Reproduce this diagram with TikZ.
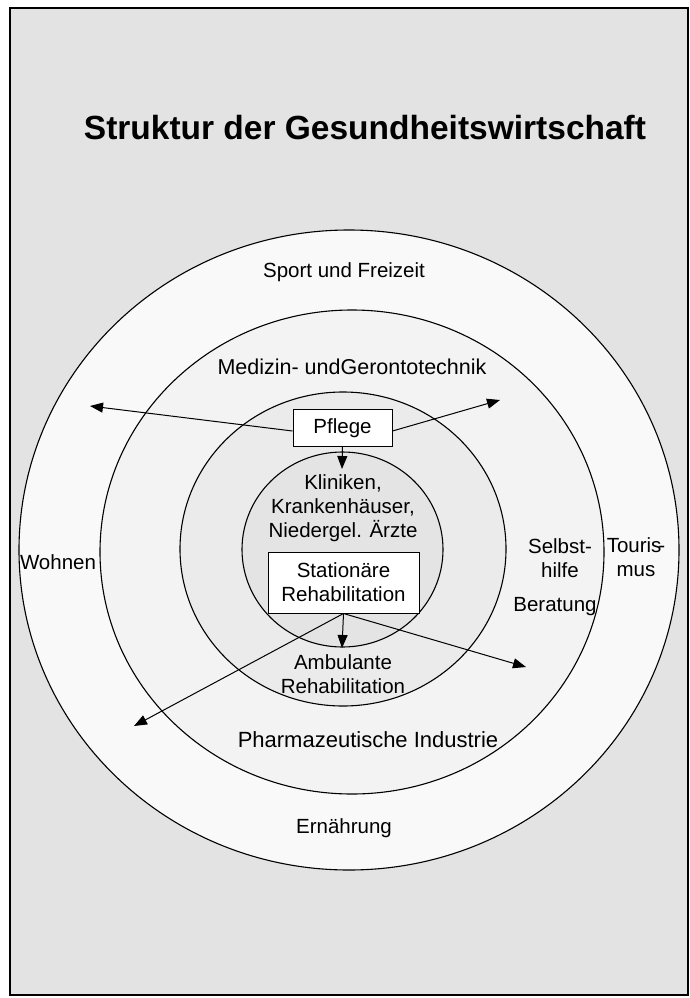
\documentclass[tikz,border=0pt]{standalone}
\usepackage{fontspec}
\setmainfont{Liberation Sans}
\usetikzlibrary{arrows.meta}
\definecolor{bggray}{HTML}{E3E3E3}
\definecolor{ringA}{HTML}{F9F9F9}
\definecolor{ringB}{HTML}{F3F3F3}
\definecolor{ringC}{HTML}{EBEBEB}
\definecolor{ringD}{HTML}{E4E4E4}
\tikzset{
  ring/.style={draw=black, line width=1.1pt},
  lbl/.style={font=\fontsize{20.5}{24}\selectfont, align=center, inner sep=0pt},
  boxnode/.style={draw=black, fill=white, line width=1pt, font=\fontsize{20.5}{24}\selectfont, align=center},
  arr/.style={draw=black, line width=1pt, -{Triangle[length=13pt,width=10pt]}}
}
\begin{document}
\begin{tikzpicture}[x=1pt,y=-1pt]
\useasboundingbox (0,0) rectangle (689,998);
\fill[white] (0,0) rectangle (689,998);
\draw[fill=bggray, line width=1.5pt] (10,8) rectangle (688,995);
\node[font=\bfseries\fontsize{33.5}{38}\selectfont, inner sep=0pt] (title) at (365,128) {Struktur der Gesundheitswirtschaft};
% rings
\draw[ring, fill=ringA] (349,550) ellipse [x radius=330, y radius=320];
\draw[ring, fill=ringB] (352,552) ellipse [x radius=252, y radius=242];
\draw[ring, fill=ringC] (343,549) ellipse [x radius=163, y radius=157];
\draw[ring, fill=ringD] (342.5,549.5) ellipse [x radius=100.5, y radius=97.5];
% labels
\node[lbl] (sport) at (344,272) {Sport und Freizeit};
\node[lbl, font=\fontsize{21.5}{24}\selectfont] (medizin) at (352,367) {Medizin- undGerontotechnik};
\node[lbl] (kliniken) at (343,508) {Kliniken,\\Krankenhäuser,\\Niedergel. Ärzte};
\node[lbl] (selbst) at (560,558) {Selbst-\\hilfe};
\node[lbl] (ambulant) at (343,674) {Ambulante\\Rehabilitation};
\node[lbl, font=\fontsize{22}{24}\selectfont] (pharma) at (368,740) {Pharmazeutische Industrie};
\node[lbl] (ernaehrung) at (344,828) {Ernährung};
\node[lbl] (wohnen) at (58,562) {Wohnen};
\node[lbl] (tourismus) at (636,557) {Touris\kern-3pt-\\mus};
\node[lbl] (beratung) at (555,607) {Beratung};
% boxes
\node[boxnode, minimum width=99pt, minimum height=37pt, inner sep=0pt] (pflege) at (342.5,428) {Pflege};
\node[boxnode, minimum width=151pt, minimum height=61pt, inner sep=0pt] (stat) at (343.5,582.5) {Stationäre\\Rehabilitation};
% arrow ends
\coordinate (pL) at (90,406);
\coordinate (pR) at (500,400);
\coordinate (pD) at (342,469);
\coordinate (sD) at (342,648);
\coordinate (sL) at (134,726);
\coordinate (sR) at (526,667);
\draw[arr] (pflege.west) ++(0,3) -- (pL);
\draw[arr] (pflege.east) ++(0,3) -- (pR);
\draw[arr] (pflege.south) -- (pD);
\draw[arr] (stat.south) -- (sD);
\draw[arr] (stat.south) -- (sL);
\draw[arr] (stat.south) -- (sR);
\end{tikzpicture}
\end{document}
